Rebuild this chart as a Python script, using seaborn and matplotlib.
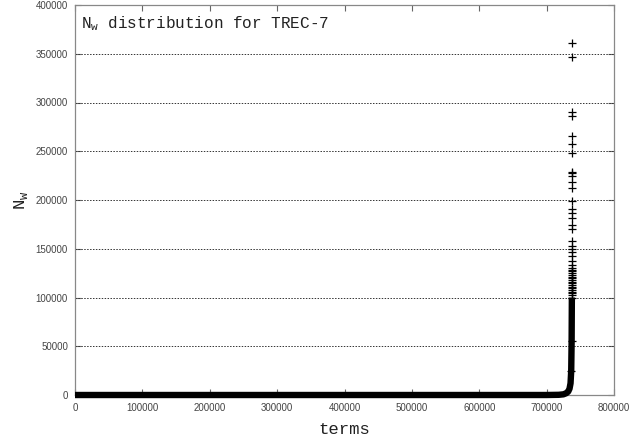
import numpy as np
import pandas as pd
import matplotlib
matplotlib.use("Agg")
import matplotlib.pyplot as plt
import seaborn as sns

# Vocabulary size (number of distinct terms, ranked by N_w ascending)
n_terms = 737600

# Profile of the dense body of the sorted distribution: rank -> N_w
body_rank = [0, 700000, 718000, 725000, 729000, 732000, 734000, 735500, 736500, 737100, 737450]
body_nw = [0, 0, 200, 700, 1800, 3500, 6500, 12000, 25000, 55000, 100000]

# Largest individual N_w values (most frequent terms), descending
top_nw = [361000, 346500, 290600, 286200, 265700, 257500, 248000, 229000, 227500,
          224600, 218000, 212500, 199000, 190600, 187000, 181700, 173900, 170400,
          158000, 152600, 150000, 146800, 142600, 137500, 133000, 130500, 128500,
          127000, 125000, 123500, 121000, 119500, 118000, 116000, 114500, 113000,
          111000, 109500, 108000, 106000, 104500, 103000]

x_ticks = [0, 100000, 200000, 300000, 400000, 500000, 600000, 700000, 800000]
y_ticks = [0, 50000, 100000, 150000, 200000, 250000, 300000, 350000, 400000]

title_text = r"N$_{\mathregular{w}}$ distribution for TREC-7"
x_label = "terms"
y_label = r"N$_{\mathregular{w}}$"

sns.set_style("white")
plt.rcParams["font.family"] = ["Liberation Sans", "DejaVu Sans"]
plt.rcParams["mathtext.fontset"] = "custom"
plt.rcParams["mathtext.rm"] = "Liberation Mono"

body = pd.DataFrame({"rank": body_rank, "nw": body_nw})
top_sorted = sorted(top_nw)
top = pd.DataFrame({
    "rank": [n_terms - len(top_sorted) + i for i in range(len(top_sorted))],
    "nw": top_sorted,
})

fig = plt.figure(figsize=(6.35, 4.41), dpi=100)
ax = fig.add_axes([75 / 635, 1 - 395 / 441, (614 - 75) / 635, (395 - 5) / 441])

# Dense band of overlapping '+' marks along the sorted curve
sns.lineplot(data=body, x="rank", y="nw", ax=ax, color="black", linewidth=4.6,
             sort=False, solid_capstyle="butt", solid_joinstyle="round", zorder=5,
             clip_on=False)
# Individual marks of the most frequent terms
sns.scatterplot(data=top, x="rank", y="nw", ax=ax, marker="+", s=40, color="black",
                linewidth=0.9, zorder=4)
sns.scatterplot(data=body.iloc[-3:], x="rank", y="nw", ax=ax, marker="+", s=40,
                color="black", linewidth=0.9, zorder=4)

ax.set_xlim(0, 800000)
ax.set_ylim(0, 400000)
ax.set_xticks(x_ticks)
ax.set_yticks(y_ticks)
ax.set_xticklabels([str(v) for v in x_ticks])
ax.set_yticklabels([str(v) for v in y_ticks])

for v in y_ticks[1:-1]:
    ax.axhline(v, color="#333333", linewidth=0.7, linestyle=(0, (1.5, 1.5)), zorder=1)

ax.tick_params(axis="both", direction="in", length=4, width=0.8, color="#666666",
               labelsize=7, labelcolor="#444444", top=True, right=True,
               bottom=True, left=True)
ax.tick_params(axis="x", pad=6)
ax.tick_params(axis="y", pad=5)
for s in ax.spines.values():
    s.set_color("#888888")
    s.set_linewidth(0.9)

ax.set_xlabel(x_label, family="Liberation Mono", fontsize=12.5, color="#222222", labelpad=6)
ax.set_ylabel(y_label, family="Liberation Mono", fontsize=12.5, color="#222222", labelpad=4)
ax.text(0.012, 0.975, title_text, transform=ax.transAxes, ha="left", va="top",
        family="Liberation Mono", fontsize=11.5, color="#222222")

fig.savefig("out.png", dpi=100)
